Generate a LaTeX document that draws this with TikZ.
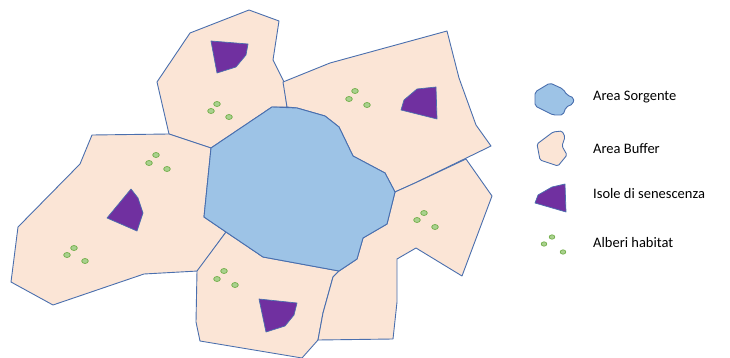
\documentclass[tikz,border=0pt]{standalone}
\usepackage{fontspec}
\setmainfont{Carlito}
\definecolor{buf}{HTML}{FBE5D6}
\definecolor{src}{HTML}{9DC3E6}
\definecolor{isl}{HTML}{7030A0}
\definecolor{edge}{HTML}{4A6FAE}
\definecolor{treefill}{HTML}{A9D18E}
\definecolor{treeline}{HTML}{70AD47}
\tikzset{
  bufferarea/.style={fill=buf,draw=edge,line width=0.9pt,line join=round},
  sourcearea/.style={fill=src,draw=edge,line width=0.9pt,line join=round},
  island/.style={fill=isl,draw=edge,line width=0.7pt,line join=round},
  tree/.style={fill=treefill,draw=treeline,line width=0.7pt},
  legendtext/.style={anchor=west,inner sep=0pt,font=\fontsize{14.5}{16}\selectfont}
}
\newcommand{\treegroup}[6]{%
  \draw[tree] (#1,#2) ellipse (3.3 and 2.5);
  \draw[tree] (#3,#4) ellipse (3.3 and 2.5);
  \draw[tree] (#5,#6) ellipse (3.3 and 2.5);}
\begin{document}
\begin{tikzpicture}[x=1pt,y=-1pt]
\useasboundingbox (0,0) rectangle (730,358);
% buffer areas
\draw[bufferarea] (249,10) -- (279,21) -- (273,60) -- (284,82) -- (287,107) -- (272,107) -- (211,148) -- (169,134) -- (157,82) -- (190,33) -- cycle;
\draw[bufferarea] (283,82) -- (330,63) -- (447,31) -- (459,78) -- (476,125) -- (491,146) -- (415,183) -- (395,192) -- (385,173) -- (353,156) -- (339,127) -- (325,116) -- (297,108) -- (287,107) -- cycle;
\draw[bufferarea] (169,134) -- (92,135) -- (80,164) -- (18,227) -- (11,282) -- (53,305) -- (144,274) -- (198,271) -- (226,232) -- (204,217) -- (211,148) -- cycle;
\draw[bufferarea] (226,232) -- (263,257) -- (339,271) -- (333,277) -- (323,313) -- (318,340) -- (302,358) -- (200,341) -- (196,322) -- (197,271) -- cycle;
\draw[bufferarea] (395,192) -- (415,183) -- (466,159) -- (492,196) -- (462,276) -- (416,248) -- (397,259) -- (397,302) -- (393,339) -- (318,340) -- (323,313) -- (333,277) -- (339,271) -- (357,259) -- (363,238) -- (387,224) -- cycle;
% source area
\draw[sourcearea] (272,107) -- (297,108) -- (325,116) -- (339,127) -- (353,156) -- (385,173) -- (395,192) -- (387,224) -- (363,238) -- (357,259) -- (339,271) -- (263,257) -- (226,232) -- (204,217) -- (211,148) -- cycle;
% islands
\draw[island] (211,41) -- (248,44) -- (246,55) -- (236,67) -- (217,73) -- cycle;
\draw[island] (417,89) -- (436,87) -- (437,119) -- (401,110) -- (404,100) -- cycle;
\draw[island] (131,189) -- (138,198) -- (143,213) -- (137,231) -- (107,218) -- cycle;
\draw[island] (259,299) -- (297,303) -- (294,315) -- (285,326) -- (266,332) -- cycle;
% habitat trees
\treegroup{217}{104}{211}{111}{229}{117}
\treegroup{355}{91}{349}{99}{367}{105}
\treegroup{156}{155}{149}{163}{167}{169}
\treegroup{74}{248}{67}{255}{85}{261}
\treegroup{224}{271}{217}{279}{235}{285}
\treegroup{424}{213}{417}{220}{435}{227}
% legend
\draw[sourcearea,rounded corners=2pt] (535,92) -- (550,83) -- (563,89) -- (567,95) -- (574,98) -- (573,104) -- (566,107) -- (563,115) -- (553,115) -- (535,106) -- cycle;
\draw[bufferarea,rounded corners=1.5pt] (537,144) -- (553,132) -- (562,131) -- (565,137) -- (562,146) -- (567,155) -- (558,166) -- (540,160) -- cycle;
\draw[island] (535,203) -- (538,195) -- (552,187) -- (565,184) -- (566,212) -- cycle;
\draw[tree] (552,237) ellipse (2.8 and 2.2);
\draw[tree] (544,244) ellipse (2.8 and 2.2);
\draw[tree] (563,252) ellipse (2.8 and 2.2);
\node[legendtext] (lsrc) at (593,97) {Area Sorgente};
\node[legendtext] (lbuf) at (593,149) {Area Buffer};
\node[legendtext] (lisl) at (593,194) {Isole di senescenza};
\node[legendtext] (ltree) at (593,243) {Alberi habitat};
\end{tikzpicture}
\end{document}
